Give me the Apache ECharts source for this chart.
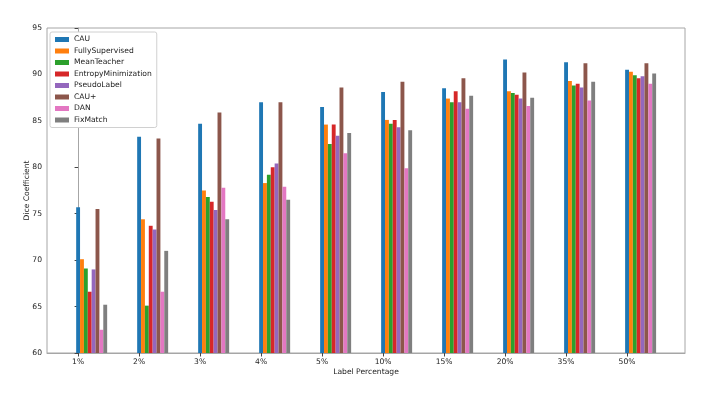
<!DOCTYPE html>
<html>
<head>
<meta charset="utf-8">
<script src="https://cdn.jsdelivr.net/npm/echarts@6/dist/echarts.min.js"></script>
<style>
  html, body { margin: 0; padding: 0; background: #fff; }
  #main { width: 714px; height: 395px; }
</style>
</head>
<body>
<div id="main"></div>
<script>
// 数据
var labels = ['1%', '2%', '3%', '4%', '5%', '10%', '15%', '20%', '35%', '50%'];
var methods = ['CAU', 'FullySupervised', 'MeanTeacher', 'EntropyMinimization', 'PseudoLabel', 'CAU+', 'DAN', 'FixMatch'];

var cau                 = [75.7, 83.3, 84.7, 87.0, 86.5, 88.1, 88.5, 91.6, 91.3, 90.5];
var fullySupervised     = [70.1, 74.4, 77.5, 78.3, 84.6, 85.1, 87.4, 88.2, 89.3, 90.3];
var meanTeacher         = [69.1, 65.1, 76.8, 79.2, 82.5, 84.7, 87.0, 88.0, 88.8, 89.9];
var entropyMinimization = [66.6, 73.7, 76.3, 80.0, 84.6, 85.1, 88.2, 87.8, 89.0, 89.6];
var pseudoLabel         = [69.0, 73.3, 75.4, 80.4, 83.4, 84.3, 87.0, 87.4, 88.6, 89.8];
var cauPlus             = [75.5, 83.1, 85.9, 87.0, 88.6, 89.2, 89.6, 90.2, 91.2, 91.2];
var dan                 = [62.5, 66.6, 77.8, 77.9, 81.5, 79.9, 86.3, 86.6, 87.2, 89.0];
var fixMatch            = [65.2, 71.0, 74.4, 76.5, 83.7, 84.0, 87.7, 87.5, 89.2, 90.1];

var seriesValues = [cau, fullySupervised, meanTeacher, entropyMinimization, pseudoLabel, cauPlus, dan, fixMatch];
var colors = ['#1f77b4', '#ff7f0e', '#2ca02c', '#d62728', '#9467bd', '#8c564b', '#e377c2', '#7f7f7f'];

var myChart = echarts.init(document.getElementById('main'));

// 每组柱子从刻度处开始往右排（x + i*width）
var barW = 0.0635;
var ticks = labels.map(function (l, i) { return i; });
var font = 'DejaVu Sans';
var fs = 7.6;
var axisGray = '#a6a6a6';

var series = methods.map(function (name, k) {
    return {
        name: name,
        type: 'bar',
        barWidth: '100%',
        barGap: '-100%',
        itemStyle: { color: colors[k] },
        data: seriesValues[k].map(function (v, i) { return [i + k * barW, v]; })
    };
});

var option = {
    animation: false,
    textStyle: { fontFamily: font },
    grid: {
        left: 47, right: 29, top: 28, bottom: 42,
        show: true, borderColor: axisGray, borderWidth: 1
    },
    legend: {
        orient: 'vertical',
        left: 50, top: 32,
        padding: [3, 5, 3, 5],
        itemWidth: 14, itemHeight: 5,
        itemGap: 2.5,
        icon: 'rect',
        borderColor: '#d0d0d0', borderWidth: 1, borderRadius: 2,
        backgroundColor: '#fff',
        textStyle: { fontFamily: font, fontSize: fs, color: '#222', lineHeight: 9 },
        data: methods
    },
    xAxis: {
        type: 'value',
        min: -0.51, max: 9.95,
        name: 'Label Percentage',
        nameLocation: 'middle',
        nameMoveOverlap: false,
        nameGap: 15,
        nameTextStyle: { fontFamily: font, fontSize: fs, color: '#222' },
        axisLine: { show: true, lineStyle: { color: axisGray } },
        axisTick: { show: true, length: 3.5, customValues: ticks, lineStyle: { color: '#444' } },
        axisLabel: {
            customValues: ticks,
            fontFamily: font, fontSize: fs, color: '#222', margin: 5,
            formatter: function (v) { return labels[Math.round(v)]; }
        },
        splitLine: { show: false }
    },
    yAxis: {
        type: 'value',
        min: 60, max: 95, interval: 5,
        name: 'Dice Coefficient',
        nameLocation: 'middle',
        nameMoveOverlap: false,
        nameGap: 16,
        nameTextStyle: { fontFamily: font, fontSize: fs, color: '#222' },
        axisLine: { show: true, lineStyle: { color: axisGray } },
        axisTick: { show: true, length: 3.5, lineStyle: { color: '#444' } },
        axisLabel: { fontFamily: font, fontSize: fs, color: '#222', margin: 5 },
        splitLine: { show: false }
    },
    series: series
};

myChart.setOption(option);
</script>
</body>
</html>
